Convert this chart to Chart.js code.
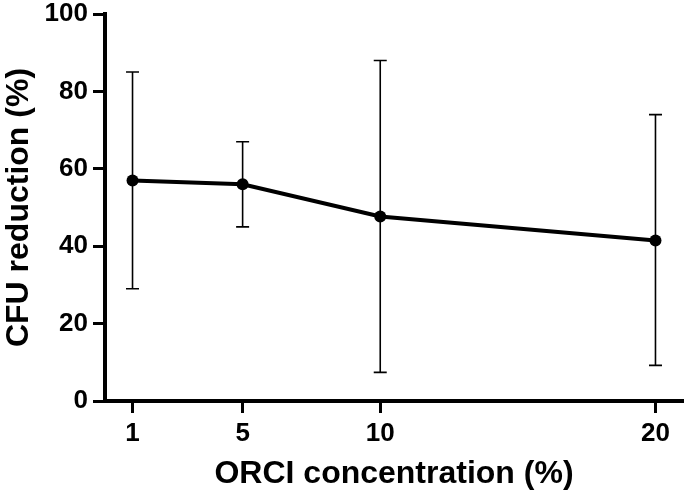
<!DOCTYPE html>
<html>
<head>
<meta charset="utf-8">
<script src="https://cdn.jsdelivr.net/npm/chart.js@4"></script>
<style>
  html, body { margin: 0; padding: 0; background: #fff; }
  #wrap { width: 689px; height: 493px; }
</style>
</head>
<body>
<div id="wrap"><canvas id="chart"></canvas></div>
<script>
// concentrations (%) and mean CFU reduction with error bar ends
const concentrations = [1, 5, 10, 20];
const meanReduction = [57, 56, 47.7, 41.5];
const errUpper = [85, 67, 88, 74];
const errLower = [29, 45, 7.4, 9.2];
const xTickValues = [1, 5, 10, 20];

const FONT = "'Liberation Sans', Arial, Helvetica, sans-serif";

// draws the vertical error bars with caps
const errorBars = {
    id: "errorBars",
    beforeDatasetsDraw(chart) {
        const ctx = chart.ctx;
        const xs = chart.scales.x;
        const ys = chart.scales.y;
        ctx.save();
        ctx.strokeStyle = "#000";
        ctx.lineWidth = 1.6;
        concentrations.forEach((c, i) => {
            const px = xs.getPixelForValue(c);
            const top = ys.getPixelForValue(errUpper[i]);
            const bot = ys.getPixelForValue(errLower[i]);
            ctx.beginPath();
            ctx.moveTo(px, top);
            ctx.lineTo(px, bot);
            ctx.moveTo(px - 6.5, top);
            ctx.lineTo(px + 6.5, top);
            ctx.moveTo(px - 6.5, bot);
            ctx.lineTo(px + 6.5, bot);
            ctx.stroke();
        });
        ctx.restore();
    }
};

const contexto = document.getElementById("chart");
new Chart(contexto, {
    type: "line",
    data: {
        datasets: [{
            data: concentrations.map((c, i) => ({ x: c, y: meanReduction[i] })),
            borderColor: "#000",
            backgroundColor: "#000",
            borderWidth: 4,
            pointRadius: 6,
            pointBackgroundColor: "#000",
            pointBorderWidth: 0,
            tension: 0
        }]
    },
    options: {
        responsive: true,
        maintainAspectRatio: false,
        animation: false,
        layout: { padding: { top: 14, right: 3, left: 0, bottom: 0 } },
        plugins: { legend: { display: false }, tooltip: { enabled: false } },
        scales: {
            x: {
                type: "linear",
                min: 0,
                max: 21,
                afterBuildTicks: (scale) => {
                    scale.ticks = xTickValues.map((v) => ({ value: v }));
                },
                afterFit: (scale) => { scale.height = 92; },
                border: { display: true, color: "#000", width: 4 },
                grid: { drawOnChartArea: false, drawTicks: true, tickLength: 12, tickWidth: 3, tickColor: "#000" },
                ticks: {
                    color: "#000",
                    padding: 5,
                    maxRotation: 0,
                    autoSkip: false,
                    font: { family: FONT, size: 26, weight: "bold" }
                },
                title: {
                    display: true,
                    text: "ORCI concentration (%)",
                    color: "#000",
                    padding: { top: 0, bottom: 0 },
                    font: { family: FONT, size: 32, weight: "bold" }
                }
            },
            y: {
                min: 0,
                max: 100,
                afterFit: (scale) => {
                    scale.width = 105;
                    scale.paddingTop = 0;
                    scale.paddingBottom = 0;
                },
                border: { display: true, color: "#000", width: 4 },
                grid: { drawOnChartArea: false, drawTicks: true, tickLength: 12, tickWidth: 3, tickColor: "#000" },
                ticks: {
                    stepSize: 20,
                    color: "#000",
                    padding: 5,
                    font: { family: FONT, size: 26, weight: "bold", lineHeight: 1 }
                },
                title: {
                    display: true,
                    text: "CFU reduction (%)",
                    color: "#000",
                    padding: { top: 0, bottom: 0 },
                    font: { family: FONT, size: 32, weight: "bold" }
                }
            }
        }
    },
    plugins: [errorBars]
});
</script>
</body>
</html>
